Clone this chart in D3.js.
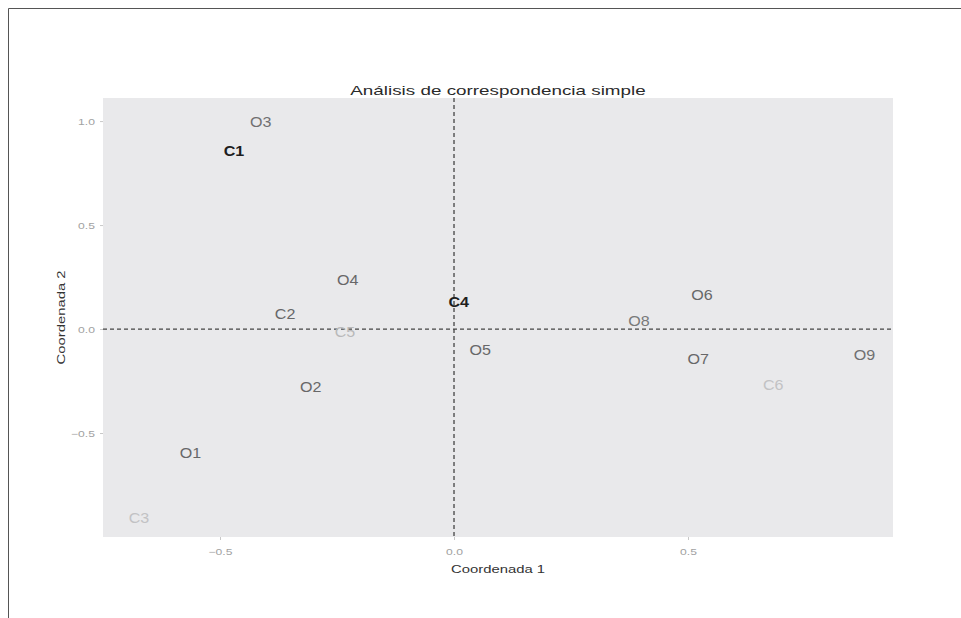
<!DOCTYPE html>
<html>
<head>
<meta charset="utf-8">
<script src="https://cdn.jsdelivr.net/npm/d3@7"></script>
<style>
  html, body { margin: 0; padding: 0; background: #fff; }
  svg { display: block; font-family: "Liberation Sans", Arial, sans-serif; }
</style>
</head>
<body>
<svg id="chart" width="961" height="618"></svg>
<script>
// Correspondence analysis: row (O) and column (C) coordinates on the first two dimensions
const labels = ["O1", "O2", "O3", "O4", "O5", "O6", "O7", "O8", "O9",
                "C1", "C2", "C3", "C4", "C5", "C6"];
const dim1 = [-0.563, -0.306, -0.413, -0.227, 0.056, 0.530, 0.522, 0.395, 0.877,
              -0.470, -0.361, -0.673, 0.010, -0.233, 0.682];
const dim2 = [-0.596, -0.279, 0.995, 0.236, -0.101, 0.163, -0.144, 0.038, -0.125,
              0.856, 0.072, -0.906, 0.130, -0.015, -0.269];
// representation quality of each point, shown as label darkness
const quality = [0.60, 0.60, 0.55, 0.60, 0.60, 0.60, 0.60, 0.50, 0.55,
                 1.00, 0.60, 0.10, 1.00, 0.15, 0.10];
const xTicks = [-0.5, 0.0, 0.5];
const yTicks = [-0.5, 0.0, 0.5, 1.0];
const title = "Análisis de correspondencia simple";
const xTitle = "Coordenada 1";
const yTitle = "Coordenada 2";

const svg = d3.select("#chart");
const panel = { left: 103, right: 893, top: 98, bottom: 537 };
const cx = (panel.left + panel.right) / 2;

const x = d3.scaleLinear().domain([-0.75, 0.938]).range([panel.left, panel.right]);
const y = d3.scaleLinear().domain([-1.0, 1.111]).range([panel.bottom, panel.top]);
const shade = d3.scaleLinear().domain([0, 1]).range(["#d4d4d6", "#1e1e1e"]);

// the typeface is drawn horizontally widened
const wide = 1.35;

// outer frame
svg.append("path")
  .attr("d", "M8.5,618 L8.5,8.5 L961,8.5")
  .attr("fill", "none").attr("stroke", "#555").attr("stroke-width", 1);

// panel background
svg.append("rect")
  .attr("x", panel.left).attr("y", panel.top)
  .attr("width", panel.right - panel.left).attr("height", panel.bottom - panel.top)
  .attr("fill", "#e9e9eb");

// axes
const xAxis = svg.append("g")
  .attr("transform", `translate(0,${panel.bottom})`)
  .call(d3.axisBottom(x).tickValues(xTicks).tickFormat(d3.format(".1f")).tickSize(3));
xAxis.selectAll(".tick text")
  .attr("y", 0).attr("dy", null)
  .attr("dominant-baseline", "central")
  .attr("transform", `translate(0,15) scale(${wide},1)`);

const yAxis = svg.append("g")
  .attr("transform", `translate(${panel.left},0)`)
  .call(d3.axisLeft(y).tickValues(yTicks).tickFormat(d3.format(".1f")).tickSize(3));
yAxis.selectAll(".tick text")
  .attr("x", 0).attr("dy", null)
  .attr("dominant-baseline", "central")
  .attr("transform", `translate(-8,0) scale(${wide},1)`);

[xAxis, yAxis].forEach(g => {
  g.select(".domain").remove();
  g.selectAll(".tick line").attr("stroke", "#c8c8c8");
  g.selectAll(".tick text").attr("fill", "#a2a2a2").style("font-size", "9px");
});

// reference lines through the origin
svg.append("line")
  .attr("x1", panel.left).attr("x2", panel.right)
  .attr("y1", y(0)).attr("y2", y(0))
  .attr("stroke", "#444").attr("stroke-width", 1.3).attr("stroke-dasharray", "4,3");
svg.append("line")
  .attr("x1", x(0)).attr("x2", x(0))
  .attr("y1", panel.top).attr("y2", panel.bottom)
  .attr("stroke", "#444").attr("stroke-width", 1.3).attr("stroke-dasharray", "4,3");

// point labels
const pts = labels.map((l, i) => ({ label: l, d1: dim1[i], d2: dim2[i], q: quality[i] }));
svg.append("g").selectAll("text")
  .data(pts)
  .join("text")
  .attr("transform", d => `translate(${x(d.d1)},${y(d.d2)}) scale(1.15,1)`)
  .attr("text-anchor", "middle")
  .attr("dominant-baseline", "central")
  .attr("fill", d => shade(d.q))
  .style("font-size", "14px")
  .style("font-weight", d => d.q > 0.9 ? "bold" : "normal")
  .text(d => d.label);

// titles
svg.append("text")
  .attr("transform", `translate(${cx},95) scale(1.45,1)`)
  .attr("text-anchor", "middle").attr("fill", "#2a2a2a")
  .style("font-size", "13px").text(title);
svg.append("text")
  .attr("transform", `translate(${cx},569) scale(${wide},1)`)
  .attr("text-anchor", "middle").attr("dominant-baseline", "central").attr("fill", "#333")
  .style("font-size", "11px").text(xTitle);
svg.append("text")
  .attr("transform", `translate(61,${(panel.top + panel.bottom) / 2}) rotate(-90) scale(${wide},1)`)
  .attr("text-anchor", "middle").attr("dominant-baseline", "central").attr("fill", "#333")
  .style("font-size", "11px").text(yTitle);
</script>
</body>
</html>
